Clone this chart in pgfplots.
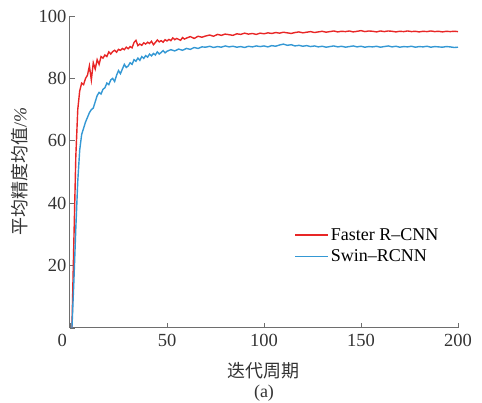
\documentclass[border=0pt]{standalone}
\usepackage{fontspec}
\setmainfont{Liberation Serif}
\newfontfamily\cjk{Noto Sans CJK SC}
\usepackage{pgfplots}
\pgfplotsset{compat=1.18}
\definecolor{fred}{RGB}{232,38,38}
\definecolor{sblue}{RGB}{52,152,212}
\definecolor{axgray}{RGB}{110,110,110}
\begin{document}
\begin{tikzpicture}
\begin{axis}[
    scale only axis,
    width=388pt, height=312pt,
    xmin=0, xmax=200, ymin=0, ymax=100,
    axis lines*=left,
    axis line style={axgray, line width=1pt},
    every tick/.style={axgray, line width=0.8pt},
    tick align=inside,
    major tick length=5pt,
    xtick={0,50,100,150,200},
    xticklabels={\makebox[0pt][r]{0\,},50,100,150,200},
    ytick={0,20,40,60,80,100},
    yticklabels={,20,40,60,80,100},
    /pgf/number format/assume math mode=true,
    tick label style={font=\fontsize{18.5}{21}\selectfont, text=black!80},
    xticklabel style={yshift=-3pt},
    xlabel={\cjk 迭代周期\\(a)},
    xlabel style={align=center, font=\fontsize{18}{20}\selectfont, text=black!80, yshift=-9pt},
    ylabel={\cjk 平均精度均值\rmfamily/\textit{\%}},
    ylabel style={font=\fontsize{18}{20}\selectfont, text=black!80, yshift=4pt},
    legend style={draw=none, fill=none, at={(0.57,0.195)}, anchor=south west,
        font=\fontsize{18}{21}\selectfont, row sep=4pt},
    legend cell align=left,
    legend image code/.code={\draw[mark repeat=2,mark phase=2,#1] plot coordinates {(0pt,0pt) (33pt,0pt)};},
]
\addplot[draw=fred, line width=1.4pt] coordinates {
(1,0) (2,28) (3,55) (4,70) (5,76) (6,78.5) (7,78) (8,80) (9,81) (10,84)
(11,79.5) (12,85) (13,83) (14,86) (15,84.5) (16,87) (17,86.5) (18,87.5) (19,87) (20,88.5)
(21,87.8) (22,88.6) (23,89) (24,88.4) (25,89.3) (26,89) (27,89.6) (28,89.2) (29,90) (30,89.5)
(31,90.2) (32,89.8) (33,91.5) (34,92.2) (35,90.5) (36,91) (37,90.6) (38,91.4) (39,91) (40,91.6)
(41,91.2) (42,91.9) (43,90.8) (44,91.5) (45,92.3) (46,91.7) (47,92.1) (48,91.6) (49,92.4) (50,92)
(51,92.5) (52,92.1) (53,93) (54,92.4) (55,92.8) (56,92.5) (57,92.2) (58,93.1) (59,92.6) (60,92.9)
(62,93.4) (64,92.8) (66,93.5) (68,93.2) (70,93.6) (72,93.9) (74,93.5) (76,94.1) (78,93.8) (80,94.2)
(82,94.0) (84,93.8) (86,94.3) (88,94.1) (90,94.5) (92,94.2) (94,94.4) (96,94.1) (98,94.5) (100,94.3)
(102,94.6) (104,94.4) (106,94.7) (108,94.5) (110,94.8) (112,94.6) (114,94.4) (116,94.7) (118,94.9) (120,94.6)
(122,94.8) (124,95.0) (126,94.7) (128,94.9) (130,95.1) (132,94.8) (134,95.0) (136,95.2) (138,94.9) (140,95.1)
(142,95.0) (144,95.2) (146,94.9) (148,95.1) (150,95.3) (152,95.0) (154,95.2) (156,95.1) (158,94.9) (160,95.2)
(162,95.0) (164,95.2) (166,95.1) (168,94.9) (170,95.1) (172,95.0) (174,95.2) (176,95.0) (178,95.1) (180,94.9)
(182,95.1) (184,95.0) (186,95.2) (188,95.0) (190,95.1) (192,94.9) (194,95.1) (196,95.0) (198,95.1) (200,95.0)
};
\addlegendentry{Faster R--CNN}
\addplot[draw=sblue, line width=1.4pt] coordinates {
(1,0) (2,15) (3,32) (4,47) (5,57) (6,62) (7,64) (8,66) (9,67.5) (10,69)
(11,70) (12,70.5) (13,72.5) (14,74.5) (15,75.5) (16,75) (17,76.5) (18,77) (19,78.5) (20,78)
(21,79.5) (22,80) (23,79) (24,81) (25,82.5) (26,81.5) (27,83) (28,84.5) (29,83.5) (30,84)
(31,85) (32,84.5) (33,86) (34,85.5) (35,86.5) (36,85.8) (37,87) (38,86.4) (39,87.3) (40,86.8)
(41,87.8) (42,87.2) (43,88) (44,87.5) (45,88.5) (46,87.8) (47,88.3) (48,88.9) (49,88.2) (50,88.7)
(52,89.2) (54,88.8) (56,89.4) (58,89.0) (60,89.6) (62,89.3) (64,89.9) (66,89.6) (68,90.1) (70,90.0)
(72,90.3) (74,89.9) (76,90.2) (78,90.0) (80,90.4) (82,90.1) (84,90.3) (86,90.0) (88,90.2) (90,89.9)
(92,90.3) (94,90.1) (96,90.4) (98,90.2) (100,90.4) (102,90.1) (104,90.5) (106,90.3) (108,90.7) (110,91.0)
(112,90.6) (114,90.8) (116,90.4) (118,90.6) (120,90.3) (122,90.5) (124,90.2) (126,90.4) (128,90.1) (130,90.3)
(132,90.0) (134,90.2) (136,90.4) (138,90.1) (140,90.3) (142,90.0) (144,90.2) (146,90.4) (148,90.1) (150,90.3)
(152,90.0) (154,90.2) (156,90.1) (158,90.3) (160,90.0) (162,90.2) (164,90.4) (166,90.1) (168,90.3) (170,90.0)
(172,90.2) (174,90.1) (176,90.3) (178,90.0) (180,90.2) (182,90.1) (184,90.3) (186,90.0) (188,90.2) (190,90.1)
(192,90.0) (194,90.2) (196,90.1) (198,89.9) (200,90.0)
};
\addlegendentry{Swin--RCNN}
\end{axis}
\pgfresetboundingbox
\path[use as bounding box] (-70pt,-75pt) rectangle (412pt,328pt);
\end{tikzpicture}
\end{document}
